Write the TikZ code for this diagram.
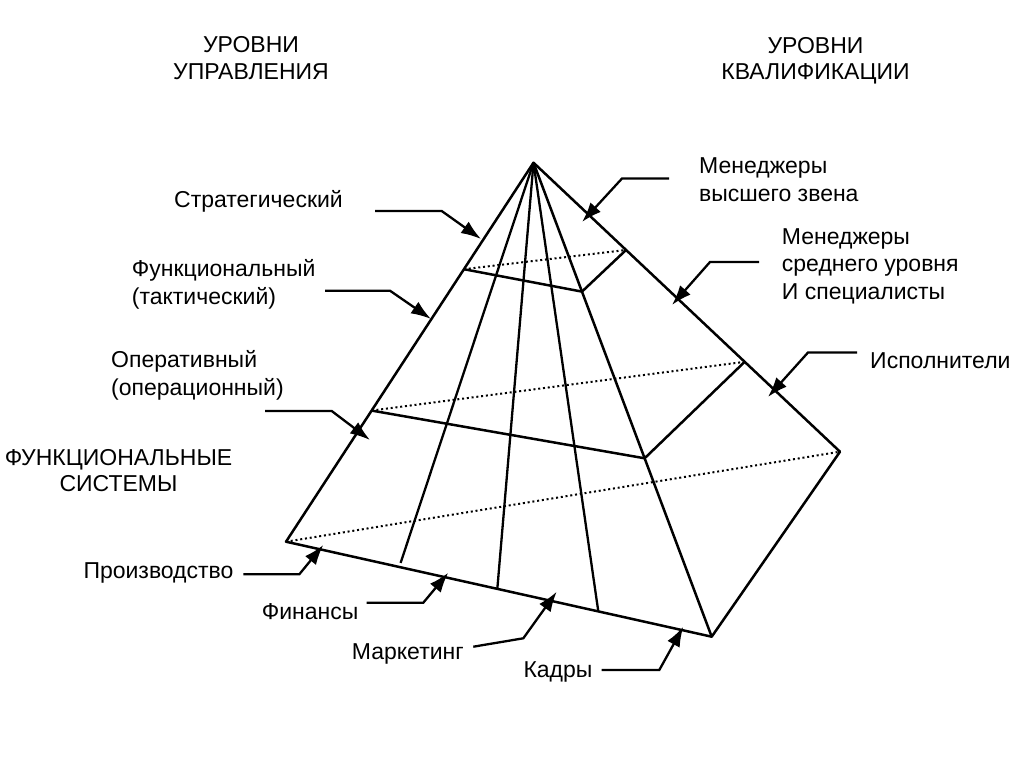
\documentclass[tikz,border=0pt]{standalone}
\usepackage{fontspec}
\setmainfont{Liberation Sans}
\usetikzlibrary{arrows.meta,calc}
\begin{document}
\begin{tikzpicture}[x=1pt,y=-1pt,
  edge/.style={line width=2.5pt, line join=round},
  fan/.style={line width=2.3pt},
  hidden/.style={line width=2pt, dash pattern=on 2pt off 2.8pt},
  leader/.style={line width=2.3pt, line join=miter, -{Latex[length=20pt,width=14pt]}},
  lbl/.style={font=\fontsize{23}{27.5}\selectfont, inner sep=0pt, anchor=west, align=left},
  ttl/.style={font=\fontsize{23}{26.7}\selectfont, inner sep=0pt, align=center}]
\fill[white] (0,0) rectangle (1024,767);
\useasboundingbox (0,0) rectangle (1024,767);

% pyramid corners
\coordinate (A)  at (533.5,162.7);
\coordinate (BL) at (286,541.7);
\coordinate (BF) at (711.7,636.7);
\coordinate (BR) at (840,451.7);
% level sections
\coordinate (P1L) at ($(A)!0.281!(BL)$);
\coordinate (P1F) at ($(A)!0.272!(BF)$);
\coordinate (P1R) at ($(A)!0.302!(BR)$);
\coordinate (P2L) at ($(A)!0.654!(BL)$);
\coordinate (P2F) at ($(A)!0.6236!(BF)$);
\coordinate (P2R) at ($(A)!0.689!(BR)$);
% fan ends on the base edge
\coordinate (F1b) at ($(BL)!0.266!(BF)$);
\coordinate (F1) at ($(A)!0.99!(F1b)$);
\coordinate (F2) at ($(BL)!0.4964!(BF)$);
\coordinate (F3) at ($(BL)!0.7336!(BF)$);

% hidden lines
\draw[hidden] (P1L) -- (P1R);
\draw[hidden] (P2L) -- (P2R);
\draw[hidden] (BL) -- (BR);
% edges
\draw[edge] (BL) -- (A) -- (BR) -- (BF) -- cycle;
\draw[edge] (A) -- (BF);
\draw[edge] (P1L) -- (P1F) -- (P1R);
\draw[edge] (P2L) -- (P2F) -- (P2R);
% functional fan lines
\draw[fan] (A) -- (F1);
\draw[fan] (A) -- (F2);
\draw[fan] (A) -- (F3);

% titles
\node[ttl] (tl) at (251,58.4) {УРОВНИ\\УПРАВЛЕНИЯ};
\node[ttl] (tr) at (815.5,60.8) {УРОВНИ\\КВАЛИФИКАЦИИ};
\node[ttl] (fs) at (118.5,470.5) {ФУНКЦИОНАЛЬНЫЕ\\СИСТЕМЫ};

% labels
\node[lbl] (strat) at (174,201) {Стратегический};
\node[lbl] (func) at (131.7,284.5) {Функциональный\\(тактический)};
\node[lbl] (oper) at (111,375.5) {Оперативный\\(операционный)};
\node[lbl] (mvz) at (699,179.5) {Менеджеры\\высшего звена};
\node[lbl] (msu) at (781.7,266) {Менеджеры\\среднего уровня\\И специалисты};
\node[lbl] (isp) at (870,361) {Исполнители};
\node[lbl] (proizv) at (83.3,573) {Производство};
\node[lbl] (fin) at (261.7,612) {Финансы};
\node[lbl] (mark) at (351.7,654) {Маркетинг};
\node[lbl] (kadry) at (523.3,671.5) {Кадры};

% leader coordinates
\coordinate (s1) at (375,211);   \coordinate (b1) at (441.7,211);  \coordinate (t1) at (481,239);
\coordinate (s2) at (325,290.7); \coordinate (b2) at (390,290.7);  \coordinate (t2) at (431,319);
\coordinate (s3) at (265,411);   \coordinate (b3) at (331.7,411);  \coordinate (t3) at (370,440);
\coordinate (s4) at (669,178.5); \coordinate (b4) at (622,178.5);  \coordinate (t4) at (582,222);
\coordinate (s5) at (759,262);   \coordinate (b5) at (710,262);    \coordinate (t5) at (672,305);
\coordinate (s6) at (857,352.5); \coordinate (b6) at (808,352.5);  \coordinate (t6) at (768,397);
\coordinate (s7) at (243.3,574.3); \coordinate (b7) at (299.3,574.3); \coordinate (t7) at (323.3,545);
\coordinate (s8) at (366.7,602.7); \coordinate (b8) at (423.3,602.7); \coordinate (t8) at (448.3,572.7);
\coordinate (s9) at (473.3,646.7); \coordinate (b9) at (523.3,638.3); \coordinate (t9) at (556.7,591.7);
\coordinate (s10) at (601.7,670); \coordinate (b10) at (659.3,670); \coordinate (t10) at (683.3,626.7);

\draw[leader] (s1) -- (b1) -- (t1);
\draw[leader] (s2) -- (b2) -- (t2);
\draw[leader] (s3) -- (b3) -- (t3);
\draw[leader] (s4) -- (b4) -- (t4);
\draw[leader] (s5) -- (b5) -- (t5);
\draw[leader] (s6) -- (b6) -- (t6);
\draw[leader] (s7) -- (b7) -- (t7);
\draw[leader] (s8) -- (b8) -- (t8);
\draw[leader] (s9) -- (b9) -- (t9);
\draw[leader] (s10) -- (b10) -- (t10);
\end{tikzpicture}
\end{document}
